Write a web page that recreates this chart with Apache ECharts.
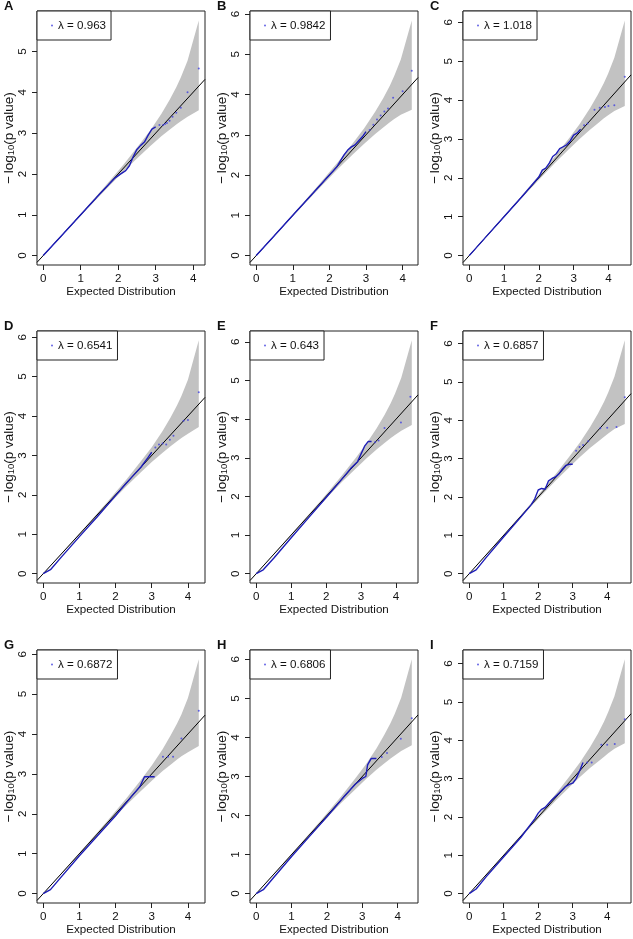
<!DOCTYPE html>
<html><head><meta charset="utf-8">
<script src="https://cdn.jsdelivr.net/npm/echarts@6/dist/echarts.min.js"></script>
<style>html,body{margin:0;padding:0;background:#fff}#c{width:633px;height:939px}</style>
</head><body><div id="c"></div>
<script>
// ---------- data ----------
const panelLabels = ['A','B','C','D','E','F','G','H','I'];
const lambdas = ['0.963','0.9842','1.018','0.6541','0.643','0.6857','0.6872','0.6806','0.7159'];
const xTicks = [0,1,2,3,4];
const yTicks = [0,1,2,3,4,5,6];
const xTitle = 'Expected Distribution';

// confidence band rows: [expected, lower, upper]
const bandA = [[0,0,0],[1.15,1.12,1.18],[1.65,1.60,1.70],[2.15,2.07,2.24],[2.55,2.42,2.70],[2.85,2.68,3.06],[3.15,2.92,3.47],[3.37,3.08,3.81],[3.55,3.21,4.12],[3.67,3.29,4.36],[3.85,3.40,4.77],[4.15,3.56,5.76]];
const bandB = [[0,0,0],[1.25,1.22,1.28],[1.75,1.70,1.80],[2.25,2.17,2.34],[2.65,2.52,2.80],[2.95,2.78,3.16],[3.25,3.02,3.57],[3.47,3.18,3.91],[3.65,3.31,4.22],[3.77,3.39,4.46],[3.95,3.50,4.87],[4.25,3.62,5.84]];
const bandC = [[0,0,0],[1.47,1.44,1.50],[1.97,1.92,2.02],[2.47,2.39,2.56],[2.87,2.74,3.02],[3.17,3.00,3.38],[3.47,3.24,3.79],[3.69,3.40,4.13],[3.87,3.53,4.44],[3.99,3.61,4.68],[4.17,3.72,5.09],[4.47,3.85,6.05]];
const bandD = [[0,0,0],[1.30,1.27,1.33],[1.80,1.75,1.85],[2.30,2.22,2.39],[2.70,2.57,2.85],[3.00,2.83,3.21],[3.30,3.07,3.62],[3.52,3.23,3.96],[3.70,3.36,4.27],[3.82,3.44,4.51],[4.00,3.55,4.92],[4.30,3.72,5.92]];
const bandE = [[0,0,0],[1.45,1.42,1.48],[1.95,1.90,2.00],[2.45,2.37,2.54],[2.85,2.72,3.00],[3.15,2.98,3.36],[3.45,3.22,3.77],[3.67,3.38,4.11],[3.85,3.51,4.42],[3.97,3.59,4.66],[4.15,3.70,5.07],[4.45,3.85,6.04]];
const bandF = [[0,0,0],[1.51,1.48,1.54],[2.01,1.96,2.06],[2.51,2.43,2.60],[2.91,2.78,3.06],[3.21,3.04,3.42],[3.51,3.28,3.83],[3.73,3.44,4.17],[3.91,3.57,4.48],[4.03,3.65,4.72],[4.21,3.77,5.13],[4.51,3.90,6.08]];
const bandG = [[0,0,0],[1.30,1.27,1.33],[1.80,1.75,1.85],[2.30,2.22,2.39],[2.70,2.57,2.85],[3.00,2.83,3.21],[3.30,3.07,3.62],[3.52,3.23,3.96],[3.70,3.36,4.26],[3.82,3.44,4.49],[4.00,3.54,4.90],[4.30,3.70,5.87]];
const bandH = [[0,0,0],[1.40,1.37,1.43],[1.90,1.85,1.95],[2.40,2.32,2.49],[2.80,2.67,2.95],[3.10,2.93,3.31],[3.40,3.17,3.72],[3.62,3.33,4.06],[3.80,3.46,4.37],[3.92,3.54,4.61],[4.10,3.65,5.02],[4.40,3.80,6.00]];
const bandI = [[0,0,0],[1.51,1.48,1.54],[2.01,1.96,2.06],[2.51,2.43,2.60],[2.91,2.78,3.06],[3.21,3.04,3.42],[3.51,3.28,3.83],[3.73,3.44,4.17],[3.91,3.57,4.49],[4.03,3.66,4.74],[4.21,3.78,5.15],[4.51,3.92,6.11]];

// observed vs expected (dense part) : [expected, observed]
const qqA = [[0,0],[0.5,0.5],[1,1],[1.5,1.5],[1.9,1.89],[2.05,1.99],[2.2,2.08],[2.3,2.2],[2.4,2.42],[2.5,2.6],[2.6,2.7],[2.7,2.78],[2.8,2.95],[2.9,3.1],[3.0,3.15]];
const qqB = [[0,0],[0.5,0.5],[1,1],[1.5,1.5],[2,2.0],[2.2,2.2],[2.3,2.35],[2.4,2.5],[2.5,2.62],[2.6,2.7],[2.7,2.75],[2.8,2.85],[2.9,2.95],[3.0,3.08]];
const qqC = [[0,0],[0.5,0.5],[1,1],[1.5,1.5],[2,2.02],[2.1,2.2],[2.2,2.25],[2.3,2.38],[2.4,2.55],[2.5,2.62],[2.6,2.75],[2.7,2.8],[2.8,2.85],[2.9,2.95],[3.0,3.1],[3.1,3.15],[3.2,3.25]];
const qqD = [[0,0],[0.2,0.1],[0.5,0.42],[1,0.94],[1.5,1.45],[2,1.98],[2.3,2.3],[2.5,2.5],[2.7,2.7],[2.9,2.95],[3.0,3.08]];
const qqE = [[0,0],[0.2,0.1],[0.5,0.4],[1,0.93],[1.5,1.45],[2,1.97],[2.5,2.5],[2.7,2.72],[2.9,2.9],[3.0,3.1],[3.1,3.3],[3.2,3.42],[3.3,3.42]];
const qqF = [[0,0],[0.2,0.1],[0.5,0.43],[1,0.96],[1.5,1.48],[1.8,1.8],[1.9,1.95],[2.0,2.18],[2.1,2.22],[2.2,2.2],[2.3,2.42],[2.4,2.48],[2.5,2.52],[2.6,2.6],[2.7,2.72],[2.8,2.82],[2.9,2.85],[3.0,2.85]];
const qqG = [[0,0],[0.2,0.1],[0.5,0.42],[1,0.95],[1.5,1.45],[2,1.95],[2.5,2.5],[2.67,2.68],[2.8,2.93],[3.08,2.93]];
const qqH = [[0,0],[0.2,0.1],[0.5,0.42],[1,0.95],[1.5,1.46],[2,1.97],[2.5,2.5],[2.8,2.8],[3.0,2.95],[3.1,3.0],[3.15,3.3],[3.25,3.46],[3.4,3.46]];
const qqI = [[0,0],[0.2,0.12],[0.5,0.45],[1,0.96],[1.5,1.47],[1.9,1.95],[2.0,2.1],[2.1,2.2],[2.2,2.25],[2.4,2.45],[2.6,2.62],[2.8,2.8],[2.9,2.85],[3.0,2.88],[3.1,3.0],[3.2,3.2],[3.3,3.42]];

// sparse tail points : [expected, observed]
const tailA = [[3.1,3.2],[3.2,3.2],[3.25,3.22],[3.3,3.25],[3.37,3.3],[3.45,3.4],[3.55,3.5],[3.67,3.62],[3.85,4.0],[4.15,4.58]];
const tailB = [[3.1,3.12],[3.2,3.25],[3.3,3.38],[3.4,3.48],[3.5,3.58],[3.6,3.65],[3.74,3.92],[4.0,4.08],[4.25,4.59]];
const tailC = [[3.3,3.35],[3.4,3.4],[3.6,3.75],[3.75,3.8],[3.9,3.82],[4.0,3.85],[4.17,3.87],[4.47,4.6]];
const tailD = [[3.1,3.2],[3.2,3.28],[3.3,3.3],[3.4,3.28],[3.5,3.4],[3.6,3.5],[3.88,3.88],[4.0,3.9],[4.3,4.6]];
const tailE = [[3.4,3.4],[3.5,3.45],[3.67,3.77],[4.14,3.91],[4.41,4.58]];
const tailF = [[3.1,3.2],[3.2,3.3],[3.3,3.35],[3.45,3.45],[3.8,3.79],[4.0,3.8],[4.27,3.82],[4.51,4.6]];
const tailG = [[3.31,3.43],[3.45,3.43],[3.59,3.43],[3.82,3.89],[4.3,4.58]];
const tailH = [[3.55,3.5],[3.7,3.6],[4.09,3.97],[4.4,4.49]];
const tailI = [[3.42,3.42],[3.55,3.42],[3.83,3.88],[4.0,3.88],[4.22,3.9],[4.51,4.55]];

// ---------- layout ----------
const FONT = '"Liberation Sans", Arial, Helvetica, sans-serif';
const colLeft = [37, 250, 463];
const colWidth = [168, 168, 168];
const rowTop = [11, 331, 650];
const rowHeight = [254, 252, 253];
const labelLeft = [4, 217, 430];
const labelTop = [0, 320, 639];

const panels = [
  {band: bandA, line: qqA, tail: tailA},
  {band: bandB, line: qqB, tail: tailB},
  {band: bandC, line: qqC, tail: tailC},
  {band: bandD, line: qqD, tail: tailD},
  {band: bandE, line: qqE, tail: tailE},
  {band: bandF, line: qqF, tail: tailF},
  {band: bandG, line: qqG, tail: tailG},
  {band: bandH, line: qqH, tail: tailH},
  {band: bandI, line: qqI, tail: tailI}
];

const option = {
  animation: false,
  backgroundColor: '#fff',
  textStyle: {fontFamily: FONT},
  title: [], grid: [], xAxis: [], yAxis: [], series: [], legend: []
};

panels.forEach((p, i) => {
  const r = Math.floor(i / 3), c = i % 3;
  const xs = [].concat(p.band.map(d => d[0]), p.line.map(d => d[0]), p.tail.map(d => d[0]));
  const ys = [].concat(p.band.map(d => d[2]), p.line.map(d => d[1]), p.tail.map(d => d[1]));
  const xMax = Math.max(...xs), yMax = Math.max(...ys);
  const xr = [-0.04 * xMax, 1.04 * xMax];
  const yr = [-0.04 * yMax, 1.04 * yMax];
  const xt = xTicks.filter(v => v >= xr[0] && v <= xr[1]);
  const yt = yTicks.filter(v => v >= yr[0] && v <= yr[1]);

  option.title.push({
    text: panelLabels[i], left: labelLeft[c], top: labelTop[r], padding: 0,
    textStyle: {fontSize: 13, fontWeight: 'bold', color: '#111', fontFamily: FONT}
  });
  option.grid.push({
    left: colLeft[c], top: rowTop[r], width: colWidth[c], height: rowHeight[r],
    show: true, borderColor: '#222', borderWidth: 1, backgroundColor: 'transparent',
    containLabel: false, outerBoundsMode: 'none'
  });
  option.xAxis.push({
    gridIndex: i, type: 'value', min: xr[0], max: xr[1],
    axisLine: {show: false, onZero: false},
    splitLine: {show: false},
    axisTick: {show: true, length: 5, customValues: xt, lineStyle: {color: '#222', width: 1}},
    axisLabel: {customValues: xt, margin: 8, fontSize: 11.6, color: '#111', fontFamily: FONT},
    name: xTitle, nameLocation: 'middle', nameGap: 21,
    nameTextStyle: {fontSize: 11.6, color: '#111', fontFamily: FONT}
  });
  option.yAxis.push({
    gridIndex: i, type: 'value', min: yr[0], max: yr[1],
    axisLine: {show: false, onZero: false},
    splitLine: {show: false},
    axisTick: {show: true, length: 5, customValues: yt, lineStyle: {color: '#222', width: 1}},
    axisLabel: {customValues: yt, rotate: 90, margin: 8, fontSize: 11.6, color: '#111', fontFamily: FONT},
    name: '{n|\u2212\u2009log}{s|10}{n|(p value)}', nameLocation: 'middle', nameGap: 19, nameRotate: 90,
    nameTextStyle: {
      color: '#111', fontFamily: FONT,
      rich: {
        n: {fontSize: 13.5, lineHeight: 16, verticalAlign: 'bottom', color: '#111', fontFamily: FONT},
        s: {fontSize: 9.5, lineHeight: 8, verticalAlign: 'bottom', color: '#111', fontFamily: FONT}
      }
    }
  });

  const band = p.band;
  option.series.push({
    type: 'custom', name: 'ci' + panelLabels[i], xAxisIndex: i, yAxisIndex: i,
    data: band, encode: {x: 0, y: [1, 2]}, silent: true, z: 1,
    renderItem: (params, api) => {
      if (params.dataIndex !== 0) return null;
      const up = band.map(d => api.coord([d[0], d[2]]));
      const lo = band.map(d => api.coord([d[0], d[1]])).reverse();
      return {type: 'polygon', shape: {points: up.concat(lo)}, style: {fill: '#c2c2c2', stroke: null}};
    }
  });
  option.series.push({
    type: 'line', name: 'ref' + panelLabels[i], xAxisIndex: i, yAxisIndex: i,
    data: [[xr[0], xr[0]], [xr[1], xr[1]]], showSymbol: false, silent: true, z: 2,
    lineStyle: {color: '#000', width: 1}
  });
  option.series.push({
    type: 'line', name: 'qq' + panelLabels[i], xAxisIndex: i, yAxisIndex: i,
    data: p.line, showSymbol: false, silent: true, z: 3,
    lineStyle: {color: '#1e1eb8', width: 1.4}
  });
  option.series.push({
    type: 'scatter', name: panelLabels[i], xAxisIndex: i, yAxisIndex: i,
    data: p.tail, symbolSize: 2, silent: true, z: 4,
    itemStyle: {color: '#4040e0'}
  });
  option.legend.push({
    left: colLeft[c], top: rowTop[r], orient: 'horizontal',
    data: [{name: panelLabels[i], icon: 'circle'}],
    itemWidth: 2, itemHeight: 2, padding: [8, 5, 8, 14],
    borderColor: '#222', borderWidth: 1, borderRadius: 0, backgroundColor: '#fff',
    selectedMode: false, formatter: '\u03bb = ' + lambdas[i],
    textStyle: {fontSize: 11.6, color: '#111', lineHeight: 13, fontFamily: FONT}
  });
});

const chart = echarts.init(document.getElementById('c'), null, {renderer: 'canvas'});
chart.setOption(option);
</script>
</body></html>
